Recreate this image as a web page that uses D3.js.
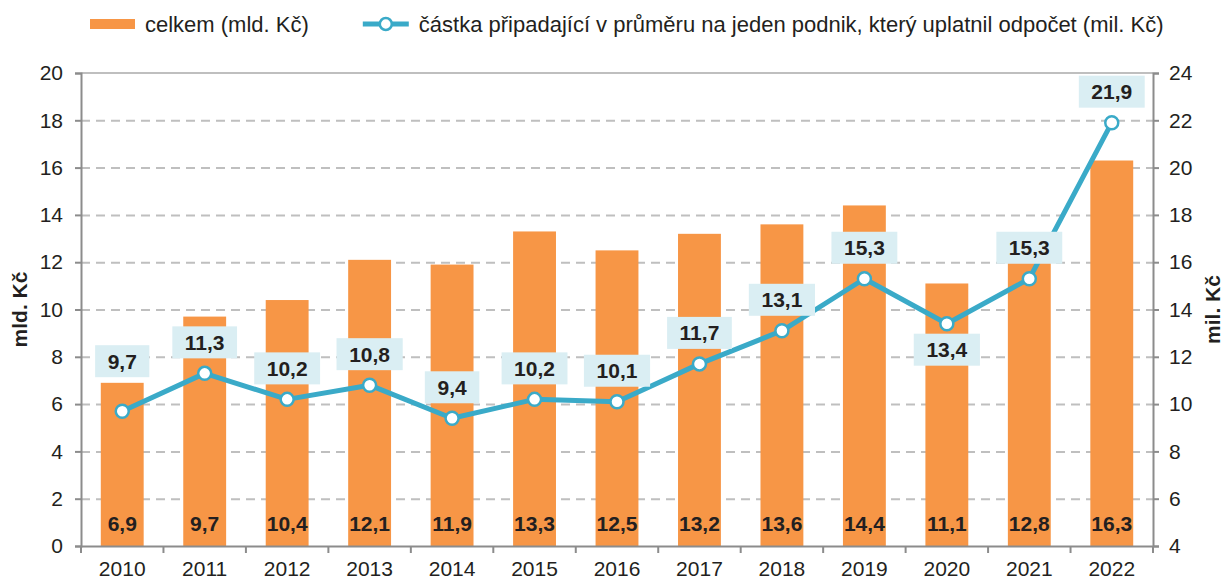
<!DOCTYPE html>
<html lang="cs">
<head>
  <meta charset="UTF-8">
  <title>Odpočet</title>
  <script src="https://d3js.org/d3.v7.min.js"></script>
  <style>
    body { margin: 0; background: #fff; }
    text { font-family: Arial, "Liberation Sans", sans-serif; fill: #231f20; }
    .axis .domain { stroke: #8c8c8c; stroke-width: 2; }
    .axis line { stroke: #8c8c8c; stroke-width: 2; }
    .axis text { font-size: 21px; }
    .gridlines .domain { stroke: none; }
    .gridlines line { stroke: #bfbfbf; stroke-width: 2; stroke-dasharray: 9 6; }
  </style>
</head>
<body>
  <svg id="chart" width="1226" height="580"></svg>
  <script>
    // data
    const years = ["2010","2011","2012","2013","2014","2015","2016","2017","2018","2019","2020","2021","2022"];
    const totals = [6.9, 9.7, 10.4, 12.1, 11.9, 13.3, 12.5, 13.2, 13.6, 14.4, 11.1, 12.8, 16.3];
    const perFirm = [9.7, 11.3, 10.2, 10.8, 9.4, 10.2, 10.1, 11.7, 13.1, 15.3, 13.4, 15.3, 21.9];
    const labelSide = ["above","above","above","above","above","above","above","above","above","above","below","above","above"];
    const leftTicks = [0, 2, 4, 6, 8, 10, 12, 14, 16, 18, 20];
    const rightTicks = [4, 6, 8, 10, 12, 14, 16, 18, 20, 22, 24];
    const legendNames = ["celkem (mld. Kč)", "částka připadající v průměru na jeden podnik, který uplatnil odpočet (mil. Kč)"];

    const svg = d3.select("svg#chart");
    const margin = {top: 73, right: 73, bottom: 34, left: 81};
    const width = +svg.attr("width");
    const height = +svg.attr("height");
    const x0 = margin.left, x1 = width - margin.right;
    const y0 = height - margin.bottom, y1 = margin.top;

    const barColor = "#f79646";
    const lineColor = "#3aaac8";
    const boxColor = "#daeef3";
    const boldFont = "bold 21px Arial, 'Liberation Sans', sans-serif";
    const fmt = v => String(v.toFixed(1)).replace(".", ",");

    const xScale = d3.scaleBand().domain(years).range([x0, x1]);
    const yLeft = d3.scaleLinear().domain([0, 20]).range([y0, y1]);
    const yRight = d3.scaleLinear().domain([4, 24]).range([y0, y1]);
    const barW = xScale.bandwidth() * 0.52;
    const cx = d => xScale(d) + xScale.bandwidth() / 2;

    // gridlines
    svg.append("g")
       .attr("class", "gridlines")
       .attr("transform", `translate(${x0},0)`)
       .call(d3.axisLeft(yLeft).tickValues(leftTicks.slice(1, -1)).tickFormat("").tickSize(-(x1 - x0)));

    svg.append("line")
       .attr("x1", x0).attr("x2", x1)
       .attr("y1", yLeft(20)).attr("y2", yLeft(20))
       .style("stroke", "#bfbfbf").style("stroke-width", 2);

    // bars
    svg.append("g").selectAll("rect")
       .data(years)
       .join("rect")
       .attr("x", d => cx(d) - barW / 2)
       .attr("y", (d, i) => yLeft(totals[i]))
       .attr("width", barW)
       .attr("height", (d, i) => yLeft(0) - yLeft(totals[i]))
       .style("fill", barColor);

    svg.append("g").selectAll("text")
       .data(years)
       .join("text")
       .attr("x", d => cx(d))
       .attr("y", y0 - 15)
       .attr("text-anchor", "middle")
       .style("font", boldFont)
       .text((d, i) => fmt(totals[i]));

    // axes
    svg.append("g")
       .attr("class", "axis")
       .attr("transform", `translate(${x0},0)`)
       .call(d3.axisLeft(yLeft).tickValues(leftTicks).tickSizeOuter(0).tickSize(6).tickPadding(12));

    svg.append("g")
       .attr("class", "axis")
       .attr("transform", `translate(${x1},0)`)
       .call(d3.axisRight(yRight).tickValues(rightTicks).tickSizeOuter(0).tickSize(6).tickPadding(10));

    const xAxis = svg.append("g")
       .attr("class", "axis")
       .attr("transform", `translate(0,${y0})`)
       .call(d3.axisBottom(xScale).tickSize(0).tickSizeOuter(0).tickPadding(15));

    xAxis.selectAll(".tick-sep")
       .data(d3.range(years.length + 1))
       .join("line")
       .attr("class", "tick-sep")
       .attr("x1", i => x0 + i * xScale.step())
       .attr("x2", i => x0 + i * xScale.step())
       .attr("y1", 0).attr("y2", 7);

    // line series
    const line = d3.line()
       .x((d, i) => cx(years[i]))
       .y(d => yRight(d));

    svg.append("path")
       .datum(perFirm)
       .attr("d", line)
       .style("fill", "none")
       .style("stroke", lineColor)
       .style("stroke-width", 5)
       .style("stroke-linejoin", "round");

    svg.append("g").selectAll("circle")
       .data(perFirm)
       .join("circle")
       .attr("cx", (d, i) => cx(years[i]))
       .attr("cy", d => yRight(d))
       .attr("r", 6.5)
       .style("fill", "#fff")
       .style("stroke", lineColor)
       .style("stroke-width", 2.5);

    // line labels
    const labels = svg.append("g").selectAll("g")
       .data(perFirm)
       .join("g")
       .attr("transform", (d, i) => {
         let dy = labelSide[i] === "below" ? 26 : -31;
         if (i === 0) dy = -50;
         return `translate(${cx(years[i])},${yRight(d) + dy})`;
       });

    labels.append("text")
       .attr("text-anchor", "middle")
       .attr("dy", "0.36em")
       .style("font", boldFont)
       .text(d => fmt(d));

    labels.each(function () {
      const g = d3.select(this);
      const bb = g.select("text").node().getBBox();
      g.insert("rect", "text")
       .attr("x", -bb.width / 2 - 12.5)
       .attr("y", -16)
       .attr("width", bb.width + 25)
       .attr("height", 32)
       .style("fill", boxColor);
    });

    // axis titles
    svg.append("text")
       .attr("transform", `translate(27,${(y0 + y1) / 2}) rotate(-90)`)
       .attr("text-anchor", "middle")
       .style("font", boldFont)
       .text("mld. Kč");

    svg.append("text")
       .attr("transform", `translate(1220,${(y0 + y1) / 2}) rotate(-90)`)
       .attr("text-anchor", "middle")
       .style("font", boldFont)
       .text("mil. Kč");

    // legend
    const legend = svg.append("g");
    legend.append("rect")
       .attr("x", 90).attr("y", 19).attr("width", 45).attr("height", 10)
       .style("fill", barColor);
    const firstLabel = legend.append("text")
       .attr("x", 145).attr("y", 24).attr("dy", "0.35em")
       .style("font-size", "22px")
       .text(legendNames[0]);
    const lx = 145 + firstLabel.node().getComputedTextLength() + 54;
    legend.append("line")
       .attr("x1", lx).attr("x2", lx + 46).attr("y1", 24).attr("y2", 24)
       .style("stroke", lineColor).style("stroke-width", 5);
    legend.append("circle")
       .attr("cx", lx + 23).attr("cy", 24).attr("r", 6)
       .style("fill", "#fff").style("stroke", lineColor).style("stroke-width", 2.5);
    legend.append("text")
       .attr("x", lx + 56).attr("y", 24).attr("dy", "0.35em")
       .style("font-size", "22px")
       .text(legendNames[1]);
  </script>
</body>
</html>
